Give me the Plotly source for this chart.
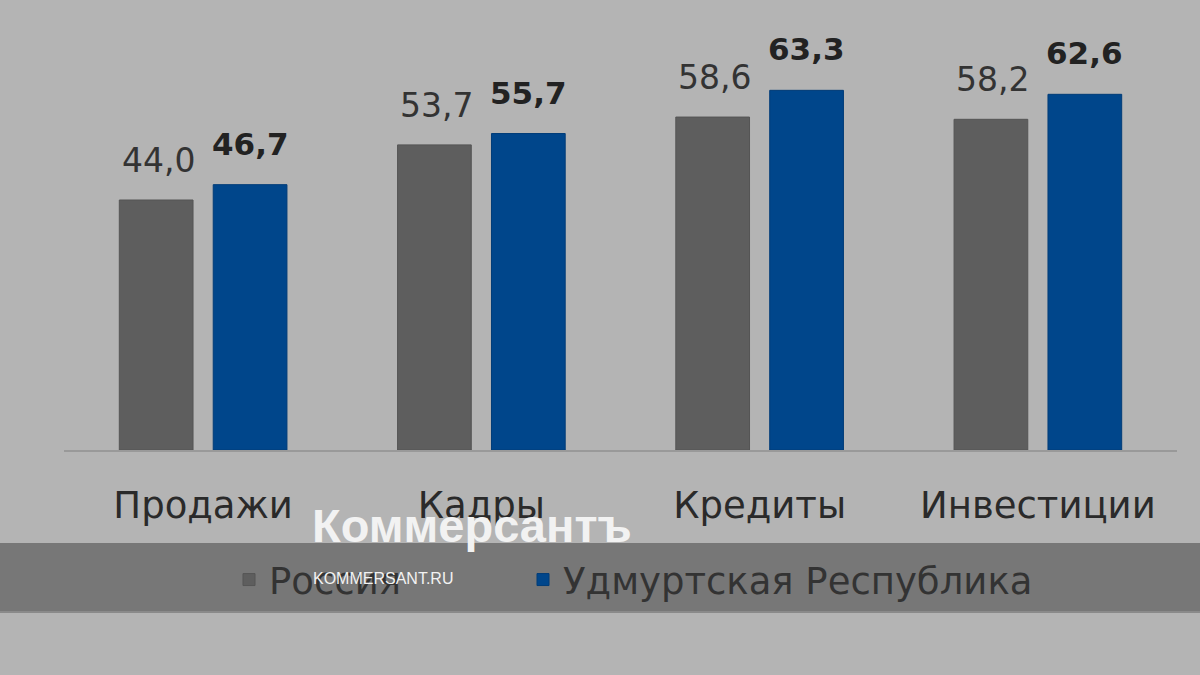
import plotly.graph_objects as go

categories = ["Продажи", "Кадры", "Кредиты", "Инвестиции"]
russia = [44.0, 53.7, 58.6, 58.2]
udmurtia = [46.7, 55.7, 63.3, 62.6]
series_names = ["Россия", "Удмуртская Республика"]

BG = "#b4b4b4"
GREY = "#5e5e5e"
BLUE = "#00468b"
TXT = "#333333"

W, H = 1200, 675
ML, MR, MT, MB = 64, 23, 0, 225
PW = W - ML - MR
PH = H - MT - MB

def px2x(px):
    return (px - ML) / PW

def py2y(py):
    return (H - MB - py) / PH

def fmt(v):
    return f"{v:.1f}".replace(".", ",")

fig = go.Figure()
fig.add_trace(go.Bar(name=series_names[0], x=categories, y=russia, legend="legend",
                     marker=dict(color=GREY, line=dict(color="#555555", width=1))))
fig.add_trace(go.Bar(name=series_names[1], x=categories, y=udmurtia, legend="legend2",
                     marker=dict(color=BLUE, line=dict(color="#003c78", width=1))))

annotations = []
for c, v in zip(categories, russia):
    annotations.append(dict(x=c, y=v, xref="x", yref="y", text=fmt(v), showarrow=False,
                            xshift=-45, yshift=18, yanchor="bottom",
                            font=dict(family="DejaVu Sans", size=33, color=TXT)))
for c, v in zip(categories, udmurtia):
    annotations.append(dict(x=c, y=v, xref="x", yref="y", text="<b>" + fmt(v) + "</b>",
                            showarrow=False, xshift=47, yshift=21, yanchor="bottom",
                            font=dict(family="DejaVu Sans", size=31, color="#222222")))

# watermark
annotations.append(dict(x=px2x(310), y=py2y(525), xref="paper", yref="paper",
                        text="<b>Коммерсантъ</b>", showarrow=False, xanchor="left",
                        yanchor="middle",
                        font=dict(family="Liberation Sans", size=47, color="#f2f2f2")))
annotations.append(dict(x=px2x(311), y=py2y(578), xref="paper", yref="paper",
                        text="KOMMERSANT.RU", showarrow=False, xanchor="left",
                        yanchor="middle",
                        font=dict(family="Liberation Sans", size=16, color="#f2f2f2")))

shapes = [
    dict(type="rect", xref="paper", yref="paper", x0=px2x(-5), x1=px2x(1205),
         y0=py2y(612), y1=py2y(543), fillcolor="#777777", line=dict(width=0), layer="below"),
    dict(type="line", xref="paper", yref="paper", x0=px2x(-5), x1=px2x(1205),
         y0=py2y(612), y1=py2y(612), line=dict(color="#8a8a8a", width=2), layer="below"),
]

legend_font = dict(family="DejaVu Sans", size=37, color=TXT)

fig.update_layout(
    width=W, height=H,
    paper_bgcolor=BG, plot_bgcolor=BG,
    margin=dict(l=ML, r=MR, t=MT, b=MB),
    barmode="group", bargap=0.325, bargroupgap=0.215,
    showlegend=True,
    legend=dict(orientation="h", x=px2x(229), y=py2y(580), xanchor="left", yanchor="middle",
                font=legend_font, bgcolor="rgba(0,0,0,0)"),
    legend2=dict(orientation="h", x=px2x(523), y=py2y(580), xanchor="left", yanchor="middle",
                 font=legend_font, bgcolor="rgba(0,0,0,0)"),
    annotations=annotations,
    shapes=shapes,
    xaxis=dict(showgrid=False, showline=True, linecolor="#999999", linewidth=2,
               ticks="", ticklabelstandoff=22,
               tickfont=dict(family="DejaVu Sans", size=37, color="#2a2a2a")),
    yaxis=dict(range=[0, 79.2], visible=False, showgrid=False),
)

fig.write_html("out.html", config={"displayModeBar": False},
               post_script="document.body.style.margin='0';document.body.style.background='#b4b4b4';")
